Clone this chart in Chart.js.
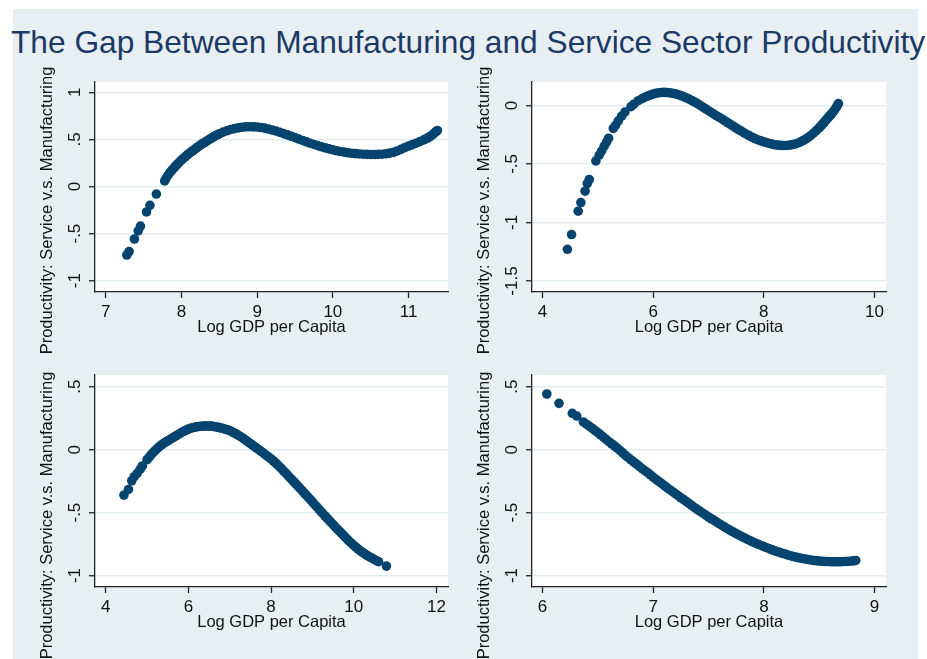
<!DOCTYPE html>
<html>
<head>
<meta charset="utf-8">
<script src="https://cdn.jsdelivr.net/npm/chart.js@4/dist/chart.umd.min.js"></script>
<style>
  html, body { margin: 0; padding: 0; background: #ffffff; }
  #page { position: relative; width: 927px; height: 659px; overflow: hidden; }
  #panel { position: absolute; left: 13px; top: 9px; width: 905px; height: 650px; background: #e8eff2; }
  #title { position: absolute; left: 11px; top: 27px; font: 31.7px/1 "Liberation Sans", Arial, sans-serif; color: #1c3a66; white-space: nowrap; }
  canvas { position: absolute; left: 0; top: 0; }
</style>
</head>
<body>
<div id="page">
  <div id="panel"></div>
  <div id="title">The Gap Between Manufacturing and Service Sector Productivity</div>
  <canvas id="c1" width="927" height="659"></canvas>
  <canvas id="c2" width="927" height="659"></canvas>
  <canvas id="c3" width="927" height="659"></canvas>
  <canvas id="c4" width="927" height="659"></canvas>
</div>
<script>
// Axis titles shared by the four panels
const yTitleText = 'Productivity: Service v.s. Manufacturing';
const xTitleText = 'Log GDP per Capita';

// Fitted productivity gap [log GDP per capita, gap] for each panel
const panelA = [
  [7.28,-0.727],[7.31,-0.69],[7.38,-0.557],[7.43,-0.47],[7.46,-0.42],[7.54,-0.27],[7.585,-0.2],[7.67,-0.08],
  [7.78,0.06],[7.80,0.09],[7.825,0.12],[7.85,0.15],[7.875,0.173],[7.90,0.195],[7.925,0.218],[7.95,0.24],
  [7.975,0.26],[8.00,0.28],[8.025,0.298],[8.05,0.315],[8.075,0.333],[8.10,0.35],[8.125,0.365],[8.15,0.38],
  [8.175,0.395],[8.20,0.41],[8.225,0.425],[8.25,0.44],[8.275,0.453],[8.30,0.465],[8.325,0.478],[8.35,0.49],
  [8.375,0.503],[8.40,0.515],[8.425,0.528],[8.45,0.54],[8.475,0.55],[8.50,0.56],
  [8.55,0.578],[8.60,0.592],[8.65,0.605],[8.70,0.615],[8.75,0.623],[8.80,0.629],[8.85,0.633],[8.90,0.635],
  [8.95,0.634],[9.00,0.632],[9.05,0.627],[9.10,0.62],[9.15,0.611],[9.20,0.6],[9.25,0.589],[9.30,0.576],
  [9.35,0.562],[9.40,0.548],[9.45,0.534],[9.50,0.519],[9.55,0.504],[9.60,0.489],[9.65,0.474],[9.70,0.46],
  [9.75,0.447],[9.80,0.434],[9.85,0.422],[9.90,0.411],[9.95,0.4],[10.00,0.39],[10.05,0.38],[10.10,0.372],
  [10.15,0.365],[10.20,0.358],[10.25,0.353],[10.30,0.349],[10.35,0.346],[10.40,0.343],[10.45,0.341],[10.50,0.34],
  [10.55,0.34],[10.60,0.341],[10.65,0.343],[10.70,0.348],[10.75,0.355],[10.80,0.363],[10.85,0.378],[10.90,0.395],
  [10.95,0.413],[11.00,0.43],[11.05,0.445],[11.10,0.46],[11.15,0.478],[11.20,0.495],[11.225,0.505],[11.25,0.515],
  [11.275,0.527],[11.30,0.54],[11.325,0.557],[11.35,0.575],[11.365,0.585],[11.38,0.595]
];
const panelB = [
  [4.45,-1.229],[4.525,-1.103],[4.645,-0.904],[4.694,-0.83],[4.77,-0.733],[4.81,-0.667],[4.845,-0.633],
  [4.965,-0.474],[5.025,-0.425],[5.07,-0.388],[5.115,-0.348],[5.16,-0.311],[5.195,-0.28],[5.28,-0.197],
  [5.32,-0.17],[5.37,-0.132],[5.43,-0.092],[5.49,-0.057],[5.60,-0.01],[5.65,0.01],[5.73,0.04],[5.80,0.058],
  [5.85,0.07],[5.90,0.08],[5.95,0.089],[6.00,0.097],[6.05,0.103],[6.10,0.108],[6.15,0.11],[6.20,0.111],
  [6.25,0.11],[6.30,0.108],[6.35,0.104],[6.40,0.099],[6.45,0.092],[6.50,0.084],[6.55,0.075],[6.60,0.065],
  [6.65,0.054],[6.70,0.042],[6.75,0.029],[6.80,0.015],[6.85,0.0],[6.90,-0.015],[6.95,-0.03],[7.00,-0.045],
  [7.05,-0.06],[7.10,-0.075],[7.15,-0.09],[7.20,-0.103],[7.25,-0.118],[7.30,-0.133],[7.35,-0.148],[7.40,-0.163],
  [7.45,-0.178],[7.50,-0.193],[7.55,-0.208],[7.60,-0.222],[7.65,-0.236],[7.70,-0.25],[7.75,-0.262],[7.80,-0.274],
  [7.85,-0.285],[7.90,-0.295],[7.95,-0.303],[8.00,-0.311],[8.05,-0.318],[8.10,-0.325],[8.15,-0.331],[8.20,-0.336],
  [8.25,-0.339],[8.30,-0.341],[8.35,-0.342],[8.40,-0.342],[8.45,-0.34],[8.50,-0.337],[8.55,-0.332],[8.60,-0.325],
  [8.65,-0.315],[8.70,-0.303],[8.75,-0.29],[8.80,-0.275],[8.85,-0.257],[8.90,-0.237],[8.95,-0.215],[9.00,-0.192],
  [9.025,-0.18],[9.05,-0.167],[9.075,-0.154],[9.10,-0.14],[9.125,-0.126],[9.15,-0.112],[9.175,-0.099],[9.20,-0.085],
  [9.225,-0.072],[9.25,-0.058],[9.275,-0.042],[9.30,-0.025],[9.325,-0.006],[9.35,0.015]
];
const panelC = [
  [4.44,-0.361],[4.55,-0.316],[4.63,-0.247],[4.69,-0.215],[4.76,-0.189],[4.83,-0.157],[4.885,-0.13],
  [5.0,-0.08],[5.05,-0.06],[5.1,-0.04],[5.15,-0.022],[5.2,-0.005],[5.25,0.01],[5.3,0.025],[5.35,0.038],
  [5.4,0.05],[5.45,0.06],[5.5,0.07],[5.55,0.08],[5.6,0.09],[5.65,0.1],[5.7,0.11],[5.75,0.12],[5.8,0.13],
  [5.85,0.139],[5.9,0.148],[5.95,0.156],[6.0,0.163],[6.05,0.169],[6.1,0.174],[6.15,0.178],[6.2,0.182],
  [6.25,0.184],[6.3,0.186],[6.35,0.187],[6.4,0.188],[6.45,0.188],[6.5,0.188],[6.55,0.187],[6.6,0.185],
  [6.65,0.182],[6.7,0.179],[6.75,0.175],[6.8,0.171],[6.85,0.167],[6.9,0.162],[6.95,0.157],[7.0,0.151],
  [7.05,0.143],[7.1,0.134],[7.15,0.125],[7.2,0.116],[7.25,0.106],[7.3,0.095],[7.35,0.084],[7.4,0.072],
  [7.45,0.06],[7.5,0.048],[7.55,0.036],[7.6,0.024],[7.65,0.012],[7.7,0.0],[7.75,-0.012],[7.8,-0.024],
  [7.85,-0.037],[7.9,-0.049],[7.95,-0.061],[8.0,-0.074],[8.05,-0.088],[8.1,-0.103],[8.15,-0.119],[8.2,-0.135],
  [8.25,-0.151],[8.3,-0.168],[8.35,-0.185],[8.4,-0.202],[8.45,-0.22],[8.5,-0.237],[8.55,-0.255],[8.6,-0.272],
  [8.65,-0.29],[8.7,-0.307],[8.75,-0.325],[8.8,-0.343],[8.85,-0.361],[8.9,-0.379],[8.95,-0.397],[9.0,-0.415],
  [9.05,-0.434],[9.1,-0.452],[9.15,-0.47],[9.2,-0.488],[9.25,-0.507],[9.3,-0.525],[9.35,-0.543],[9.4,-0.56],
  [9.45,-0.578],[9.5,-0.595],[9.55,-0.613],[9.6,-0.63],[9.65,-0.647],[9.7,-0.663],[9.75,-0.68],[9.8,-0.697],
  [9.85,-0.714],[9.9,-0.73],[9.95,-0.745],[10.0,-0.76],[10.05,-0.774],[10.1,-0.788],[10.15,-0.801],[10.2,-0.813],
  [10.25,-0.824],[10.3,-0.835],[10.35,-0.845],[10.4,-0.855],[10.45,-0.864],[10.5,-0.873],[10.55,-0.882],
  [10.6,-0.89],[10.79,-0.925]
];
const panelD = [
  [6.04,0.442],[6.15,0.368],[6.27,0.289],[6.31,0.267],[6.37,0.22],
  [6.400,0.200],[6.425,0.185],[6.450,0.170],[6.475,0.152],[6.500,0.135],[6.525,0.118],[6.550,0.100],[6.575,0.082],
  [6.600,0.063],[6.625,0.047],[6.650,0.030],[6.675,0.012],[6.700,-0.005],[6.725,-0.025],[6.750,-0.045],[6.775,-0.064],
  [6.800,-0.082],[6.825,-0.099],[6.850,-0.115],[6.875,-0.133],[6.900,-0.150],[6.925,-0.167],[6.950,-0.183],[6.975,-0.200],
  [7.000,-0.218],[7.025,-0.235],[7.050,-0.252],[7.075,-0.268],[7.100,-0.285],[7.125,-0.302],[7.150,-0.318],[7.175,-0.334],
  [7.200,-0.350],[7.225,-0.366],[7.250,-0.382],[7.275,-0.397],[7.300,-0.413],[7.325,-0.429],[7.350,-0.445],[7.375,-0.461],
  [7.400,-0.476],[7.425,-0.490],[7.450,-0.505],[7.475,-0.520],[7.500,-0.535],[7.525,-0.549],[7.550,-0.562],[7.575,-0.576],
  [7.600,-0.590],[7.625,-0.604],[7.650,-0.617],[7.675,-0.630],[7.700,-0.643],[7.725,-0.655],[7.750,-0.667],[7.775,-0.679],
  [7.800,-0.690],[7.825,-0.701],[7.850,-0.712],[7.875,-0.723],[7.900,-0.733],[7.925,-0.743],[7.950,-0.752],[7.975,-0.761],
  [8.000,-0.770],[8.025,-0.779],[8.050,-0.787],[8.075,-0.795],[8.100,-0.803],[8.125,-0.811],[8.150,-0.818],[8.175,-0.825],
  [8.200,-0.832],[8.225,-0.839],[8.250,-0.845],[8.275,-0.851],[8.300,-0.856],[8.325,-0.861],[8.350,-0.865],[8.375,-0.869],
  [8.400,-0.873],[8.425,-0.877],[8.450,-0.880],[8.475,-0.883],[8.500,-0.885],[8.525,-0.887],[8.550,-0.888],[8.575,-0.889],
  [8.600,-0.890],[8.625,-0.8905],[8.650,-0.891],[8.675,-0.891],[8.700,-0.890],[8.725,-0.889],[8.750,-0.888],[8.775,-0.886],
  [8.800,-0.884],[8.815,-0.882],[8.830,-0.880]
];

// Tick positions for each panel
const xTicksA = [7, 8, 9, 10, 11];
const yTicksA = [1, 0.5, 0, -0.5, -1];
const xTicksB = [4, 6, 8, 10];
const yTicksB = [0, -0.5, -1, -1.5];
const xTicksC = [4, 6, 8, 10, 12];
const yTicksC = [0.5, 0, -0.5, -1];
const xTicksD = [6, 7, 8, 9];
const yTicksD = [0.5, 0, -0.5, -1];

const FONT_FAMILY = '"Liberation Sans", Arial, Helvetica, sans-serif';
const TEXT_COLOR = '#111111';
const AXIS_COLOR = '#222222';
const MARKER_COLOR = '#05446f';
const TICK_SIZE = 17;
const TITLE_SIZE = 16.5;

// Stata-style number labels: ".5", "-.5", "0", "-1.5"
function fmt(v) {
  return String(Math.round(v * 100) / 100).replace(/^(-?)0\./, '$1.');
}

// White plot region, vertical tick labels and the vertical axis title
const stataText = {
  id: 'stataText',
  beforeDraw(chart) {
    const { ctx, chartArea } = chart;
    ctx.save();
    ctx.fillStyle = '#ffffff';
    ctx.fillRect(chartArea.left, chartArea.top, chartArea.right - chartArea.left, chartArea.bottom - chartArea.top);
    ctx.restore();
  },
  afterDraw(chart, args, opts) {
    const { ctx, chartArea } = chart;
    const ys = chart.scales.y;
    ctx.save();
    ctx.fillStyle = TEXT_COLOR;
    ctx.textAlign = 'center';
    ctx.textBaseline = 'middle';
    ctx.font = TICK_SIZE + 'px ' + FONT_FAMILY;
    ys.ticks.forEach(t => {
      ctx.save();
      ctx.translate(chartArea.left - 19.5, ys.getPixelForValue(t.value));
      ctx.rotate(-Math.PI / 2);
      ctx.fillText(fmt(t.value), 0, 0);
      ctx.restore();
    });
    ctx.font = TITLE_SIZE + 'px ' + FONT_FAMILY;
    ctx.translate(chartArea.left - 48, opts.titleCenter);
    ctx.rotate(-Math.PI / 2);
    ctx.fillText(opts.title, 0, 0);
    ctx.restore();
  }
};

function makePanel(id, points, xTicks, yTicks, xMin, xMax, yMin, yMax, padding, titleCenter) {
  return new Chart(document.getElementById(id), {
    type: 'scatter',
    data: {
      datasets: [{
        data: points.map(p => ({ x: p[0], y: p[1] })),
        pointRadius: 4.8,
        pointHoverRadius: 4.8,
        pointBackgroundColor: MARKER_COLOR,
        pointBorderWidth: 0,
        showLine: false
      }]
    },
    options: {
      responsive: false,
      animation: false,
      events: [],
      layout: { padding },
      plugins: {
        legend: { display: false },
        tooltip: { enabled: false },
        stataText: { title: yTitleText, titleCenter }
      },
      scales: {
        x: {
          type: 'linear',
          position: 'bottom',
          min: xMin,
          max: xMax,
          afterBuildTicks: s => { s.ticks = xTicks.map(v => ({ value: v })); },
          afterFit: s => { s.height = 45; },
          grid: { drawOnChartArea: false, drawTicks: true, tickLength: 6, tickColor: AXIS_COLOR, tickWidth: 1.3 },
          border: { display: true, color: AXIS_COLOR, width: 1.3 },
          ticks: {
            autoSkip: false, maxRotation: 0, minRotation: 0, padding: 4, color: TEXT_COLOR,
            font: { family: FONT_FAMILY, size: TICK_SIZE },
            callback: v => fmt(v)
          },
          title: {
            display: true, text: xTitleText, color: TEXT_COLOR,
            font: { family: FONT_FAMILY, size: TITLE_SIZE },
            padding: { top: 0, bottom: 0 }
          }
        },
        y: {
          type: 'linear',
          position: 'left',
          min: yMin,
          max: yMax,
          afterBuildTicks: s => { s.ticks = yTicks.map(v => ({ value: v })); },
          afterFit: s => { s.width = 45; },
          grid: { color: '#e3edf0', lineWidth: 1.5, drawTicks: true, tickLength: 6, tickColor: AXIS_COLOR, tickWidth: 1.3 },
          border: { display: true, color: AXIS_COLOR, width: 1.3 },
          ticks: { display: false }
        }
      }
    },
    plugins: [stataText]
  });
}

makePanel('c1', panelA, xTicksA, yTicksA, 6.86, 11.52, -1.12, 1.11,
  { left: 50, right: 479, top: 82, bottom: 322 }, 210.5);
makePanel('c2', panelB, xTicksB, yTicksB, 3.81, 10.21, -1.594, 0.2,
  { left: 487, right: 41, top: 82, bottom: 322 }, 210.5);
makePanel('c3', panelC, xTicksC, yTicksC, 3.74, 12.28, -1.091, 0.593,
  { left: 50, right: 479, top: 375, bottom: 27 }, 515.5);
makePanel('c4', panelD, xTicksD, yTicksD, 5.906, 9.103, -1.091, 0.593,
  { left: 487, right: 41, top: 375, bottom: 27 }, 515.5);
</script>
</body>
</html>
